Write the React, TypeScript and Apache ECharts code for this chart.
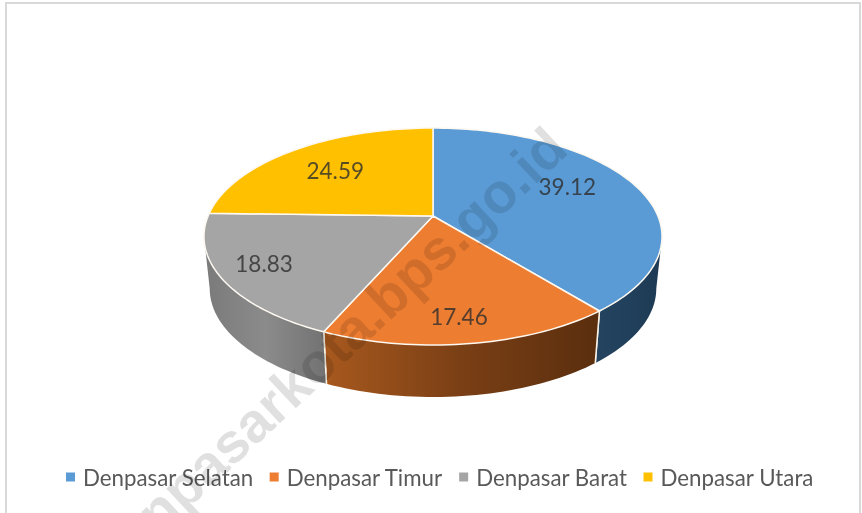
import React, { useEffect, useRef } from "react";
import * as echarts from "echarts";

const regions = ["Denpasar Selatan", "Denpasar Timur", "Denpasar Barat", "Denpasar Utara"];
const shares = [39.12, 17.46, 18.83, 24.59];
const topColors = ["#5B9BD5", "#ED7D31", "#A5A5A5", "#FFC000"];
const wallStops: [string, string, string][] = [
  ["#23435F", "#21405B", "#1E3A54"],
  ["#A8591E", "#7A3F15", "#5A2E0E"],
  ["#7A7A7A", "#8B8B8B", "#727272"],
  ["#997300", "#997300", "#997300"],
];
const watermark = "denpasarkota.bps.go.id";

// Perspective of the tilted disc, in page pixels
const APEX_X = 433;
const APEX_Y = 216;
const RADIUS_X = 224.9;
const RADIUS_Y = 104.6;
const TILT = 0.189;
const DEPTH = 52;
const BOTTOM_SHRINK = 0.975;
const LABEL_REACH = [0.7, 0.82, 0.81, 0.666];
const LABEL_TURN = [-6, 0.9, 1, -1];

const rad = (d: number) => (d * Math.PI) / 180;
const total = shares.reduce((a, b) => a + b, 0);

function project(deg: number, reach = 1): [number, number] {
  const u = Math.sin(rad(deg)) * reach;
  const v = -Math.cos(rad(deg)) * reach;
  const w = 1 - TILT * v;
  return [APEX_X + (RADIUS_X * u) / w, APEX_Y + (RADIUS_Y * v) / w];
}
function lower(p: [number, number]): [number, number] {
  return [APEX_X + (p[0] - APEX_X) * BOTTOM_SHRINK, p[1] + DEPTH];
}
function arc(from: number, to: number): [number, number][] {
  const n = Math.max(2, Math.ceil((to - from) / 1.5));
  const pts: [number, number][] = [];
  for (let i = 0; i <= n; i++) pts.push(project(from + ((to - from) * i) / n));
  return pts;
}

const FRONT_FROM = (Math.acos(-TILT) * 180) / Math.PI;
const FRONT_TO = 360 - FRONT_FROM;

function makeRender(index: number) {
  return (_params: any, api: any) => {
    const value = api.value(0) as number;
    const before = shares.slice(0, index).reduce((a, b) => a + b, 0);
    const start = (before / total) * 360;
    const end = start + (value / total) * 360;
    const children: any[] = [];

    const a = Math.max(start, FRONT_FROM);
    const b = Math.min(end, FRONT_TO);
    if (b > a) {
      const edge = arc(a, b);
      const wall = [...edge, ...edge.map(lower).reverse()];
      const stops = wallStops[index];
      children.push({
        type: "polygon",
        shape: { points: wall },
        style: {
          fill: new echarts.graphic.LinearGradient(0, 0, 1, 0, [
            { offset: 0, color: stops[0] },
            { offset: 0.5, color: stops[1] },
            { offset: 1, color: stops[2] },
          ]),
        },
      });
      for (const corner of [start, end]) {
        if (corner > FRONT_FROM && corner < FRONT_TO) {
          const p = project(corner);
          const q = lower(p);
          children.push({
            type: "line",
            shape: { x1: p[0], y1: p[1], x2: q[0], y2: q[1] },
            style: { stroke: "#FBF3E6", lineWidth: 1.5 },
          });
        }
      }
    }

    children.push({
      type: "polygon",
      shape: { points: [project(0, 0), ...arc(start, end)] },
      style: { fill: topColors[index], stroke: "#FDF8F0", lineWidth: 1.5, lineJoin: "round" },
    });

    const labelAt = project((start + end) / 2 + LABEL_TURN[index], LABEL_REACH[index]);
    children.push({
      type: "text",
      style: {
        text: value.toFixed(2),
        x: labelAt[0],
        y: labelAt[1],
        align: "center",
        verticalAlign: "middle",
        fontFamily: "Lato",
        fontSize: 22.5,
        fill: "rgba(45,45,45,0.8)",
      },
    });
    return { type: "group", children };
  };
}

export default function App() {
  const ref = useRef<HTMLDivElement>(null);
  useEffect(() => {
    document.body.style.margin = "0";
    const chart = echarts.init(ref.current!, undefined, { renderer: "svg" });
    chart.setOption({
      animation: false,
      backgroundColor: "#FFFFFF",
      legend: {
        data: regions,
        left: 61,
        top: 461,
        icon: "rect",
        itemWidth: 9,
        itemHeight: 9,
        itemGap: 16,
        textStyle: {
          fontFamily: "Lato",
          fontSize: 22.3,
          color: "#595959",
          padding: [0, 0, 0, 3],
        },
        selectedMode: false,
      },
      series: regions.map((name, i) => ({
        type: "custom",
        name,
        coordinateSystem: "none",
        silent: true,
        z: i === 3 ? 3 : 2,
        itemStyle: { color: topColors[i] },
        data: [[shares[i]]],
        renderItem: makeRender(i),
      })),
      graphic: [
        {
          type: "rect",
          z: 1,
          shape: { x: 6, y: 3, width: 854, height: 530 },
          style: { fill: "none", stroke: "#D9D9D9", lineWidth: 2 },
        },
        {
          type: "text",
          z: 100,
          x: 557,
          y: 138,
          rotation: rad(43),
          style: {
            text: watermark,
            align: "right",
            verticalAlign: "middle",
            fontFamily: "Liberation Sans",
            fontWeight: "bold",
            fontSize: 56,
            fill: "rgba(0,0,0,0.12)",
          },
        },
      ],
    });
    return () => chart.dispose();
  }, []);
  return <div ref={ref} style={{ width: 862, height: 513, filter: "blur(0.5px)" }} />;
}
